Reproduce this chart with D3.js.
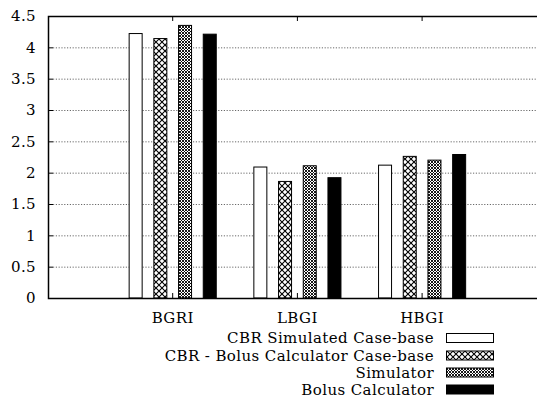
<!DOCTYPE html>
<html lang="en">
<head>
<meta charset="UTF-8">
<title>Risk indices</title>
<script src="https://cdnjs.cloudflare.com/ajax/libs/d3/7.8.5/d3.min.js"></script>
<style>
  body { margin: 0; background: #fff; }
</style>
</head>
<body>
<div id="chart"></div>
<script>
  // data
  const categories = ["BGRI", "LBGI", "HBGI"];
  const seriesNames = ["CBR Simulated Case-base", "CBR - Bolus Calculator Case-base", "Simulator", "Bolus Calculator"];
  const cbrSimulated = [4.22, 2.09, 2.12];
  const cbrBolus = [4.14, 1.86, 2.26];
  const simulator = [4.35, 2.11, 2.20];
  const bolusCalc = [4.21, 1.92, 2.29];
  const yTicks = [0, 0.5, 1, 1.5, 2, 2.5, 3, 3.5, 4, 4.5];

  const series = [cbrSimulated, cbrBolus, simulator, bolusCalc];
  const fills = ["#fff", "url(#cross)", "url(#dense)", "#000"];
  const FONT = "DejaVu Serif";

  const W = 537, H = 398;
  const plotLeft = 48, plotTop = 16, plotBottom = 298;

  const svg = d3.select("#chart").append("svg")
      .attr("width", W).attr("height", H)
      .attr("font-family", FONT)
      .attr("letter-spacing", 0.4);

  const defs = svg.append("defs");
  // open crosshatch
  const p1 = defs.append("pattern").attr("id", "cross")
      .attr("patternUnits", "userSpaceOnUse").attr("width", 6).attr("height", 6);
  p1.append("rect").attr("width", 6).attr("height", 6).attr("fill", "#fff");
  p1.append("path").attr("d", "M0,0L6,6M6,0L0,6")
      .attr("stroke", "#000").attr("stroke-width", 1.1);
  // fine crosshatch
  const p2 = defs.append("pattern").attr("id", "dense")
      .attr("patternUnits", "userSpaceOnUse").attr("width", 3).attr("height", 3);
  p2.append("rect").attr("width", 3).attr("height", 3).attr("fill", "#fff");
  p2.append("path").attr("d", "M0,0L3,3M3,0L0,3")
      .attr("stroke", "#000").attr("stroke-width", 0.9);

  // x: categories at integer positions, axis from -1 to 3
  const x = d3.scaleLinear().domain([-1, 3]).range([plotLeft, plotLeft + 4 * 124.7]);
  const y = d3.scaleLinear().domain([0, 4.5]).range([plotBottom, plotTop]);
  const barW = 13, step = 24.7;

  // grid
  svg.append("g").selectAll("line")
    .data(yTicks.filter(t => t > 0 && t < 4.5))
    .join("line")
      .attr("x1", plotLeft + 5).attr("x2", W)
      .attr("y1", d => y(d) + 0.5).attr("y2", d => y(d) + 0.5)
      .attr("stroke", "#444").attr("stroke-width", 0.8)
      .attr("stroke-dasharray", "1.2,1.6");

  // y axis labels + ticks
  const yAxis = svg.append("g").attr("transform", `translate(${plotLeft},0)`)
      .call(d3.axisLeft(y).tickValues(yTicks).tickSize(-5).tickPadding(12)
        .tickFormat(d => String(d)));
  yAxis.attr("font-family", FONT).attr("font-size", 15);
  yAxis.select(".domain").remove();
  yAxis.selectAll("line").attr("stroke", "#000");
  yAxis.selectAll("text").attr("fill", "#000");

  // bars
  categories.forEach((c, ci) => {
    series.forEach((s, si) => {
      const cx = x(ci) + (si - 1.5) * step;
      svg.append("rect")
        .attr("x", cx - barW / 2).attr("y", y(s[ci]))
        .attr("width", barW).attr("height", y(0) - y(s[ci]))
        .attr("fill", fills[si]).attr("stroke", "#000").attr("stroke-width", 1);
    });
  });

  // x ticks top and bottom
  categories.forEach((c, ci) => {
    svg.append("line").attr("x1", x(ci)).attr("x2", x(ci))
      .attr("y1", plotTop).attr("y2", plotTop + 5).attr("stroke", "#000");
    svg.append("line").attr("x1", x(ci)).attr("x2", x(ci))
      .attr("y1", plotBottom).attr("y2", plotBottom - 5).attr("stroke", "#000");
    svg.append("text").attr("x", x(ci)).attr("y", 323)
      .attr("text-anchor", "middle").attr("font-size", 15).text(c);
  });

  // frame
  svg.append("path")
    .attr("d", `M${W},${plotTop + 0.5}H${plotLeft + 0.5}V${plotBottom + 0.5}H${W}`)
    .attr("fill", "none").attr("stroke", "#000").attr("stroke-width", 1.5);

  // legend
  const legY = [338, 355.5, 372.5, 389.5];
  seriesNames.forEach((n, i) => {
    svg.append("text").attr("x", 434).attr("y", legY[i] + 5)
      .attr("text-anchor", "end").attr("font-size", 15).text(n);
    svg.append("rect").attr("x", 446.5).attr("y", legY[i] - 4.5)
      .attr("width", 47).attr("height", 9)
      .attr("fill", fills[i]).attr("stroke", "#000").attr("stroke-width", 1);
  });
</script>
</body>
</html>
